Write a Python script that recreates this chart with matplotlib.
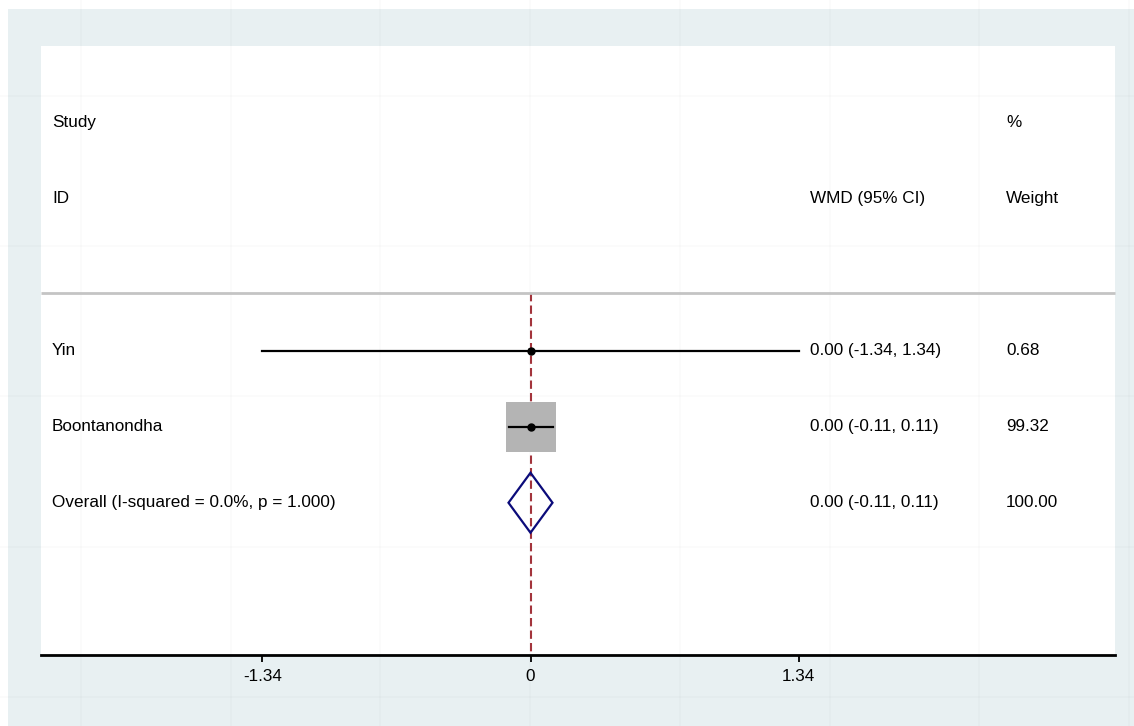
import numpy as np
import matplotlib
matplotlib.use("Agg")
import matplotlib.pyplot as plt
from matplotlib.patches import Rectangle, Polygon

plt.rcParams["font.family"] = ["Liberation Sans", "DejaVu Sans"]

# Study-level results (weighted mean difference, 95% CI, % weight)
studies = ["Yin", "Boontanondha"]
wmd = [0.00, 0.00]
ci_low = [-1.34, -0.11]
ci_high = [1.34, 0.11]
weights = [0.68, 99.32]

# Pooled estimate
overall_label = "Overall (I-squared = 0.0%, p = 1.000)"
overall_wmd = 0.00
overall_low = -0.11
overall_high = 0.11
overall_weight = 100.00

xticks = [-1.34, 0, 1.34]
xtick_labels = ["-1.34", "0", "1.34"]

W, H = 1134, 726
fig = plt.figure(figsize=(W / 100, H / 100), dpi=100, facecolor="white")

# Background layer in pixel coordinates
bg = fig.add_axes([0, 0, 1, 1], zorder=0)
bg.set_xlim(0, W)
bg.set_ylim(H, 0)
bg.axis("off")
bg.add_patch(Rectangle((8, 9), W - 8, H - 9, facecolor="#e8f0f2", edgecolor="none"))
bg.add_patch(Rectangle((41, 46), 1115 - 41, 655 - 46, facecolor="white", edgecolor="none"))
for gx in np.arange(81, W, 149.7):
    bg.axvline(gx, color="black", alpha=0.018, lw=1.2)
for gy in np.arange(96, H, 150.2):
    bg.axhline(gy, color="black", alpha=0.018, lw=1.2)

# Plot region
left, right, top, bottom = 41, 1115, 46, 655
ax = fig.add_axes([left / W, 1 - bottom / H, (right - left) / W, (bottom - top) / H], zorder=1)
ax.patch.set_alpha(0)
x0, px_per_unit = 530.5, 200.0
ax.set_xlim((left - x0) / px_per_unit, (right - x0) / px_per_unit)
ax.set_ylim(5, -3)
row_px = (bottom - top) / 8.0

fs = 12.3

for s in ["top", "left", "right"]:
    ax.spines[s].set_visible(False)
ax.spines["bottom"].set_linewidth(2)
ax.spines["bottom"].set_color("black")
ax.set_yticks([])
ax.set_xticks(xticks)
ax.set_xticklabels(xtick_labels)
ax.tick_params(axis="x", length=5, width=1.3, pad=5, labelsize=fs, color="black")

xlab = (52 - x0) / px_per_unit
xci = (810 - x0) / px_per_unit
xwt = (1006 - x0) / px_per_unit
dy = 0.0

# Header rows
ax.text(xlab, -2 + dy, "Study", fontsize=fs, va="center", ha="left")
ax.text(xlab, -1 + dy, "ID", fontsize=fs, va="center", ha="left")
ax.text(xci, -1 + dy, "WMD (95% CI)", fontsize=fs, va="center", ha="left")
ax.text(xwt, -2 + dy, "%", fontsize=fs, va="center", ha="left")
ax.text(xwt, -1 + dy, "Weight", fontsize=fs, va="center", ha="left")

# Separator under the header
sep_y = 0.24
ax.plot(ax.get_xlim(), [sep_y, sep_y], color="#c4c4c4", lw=2, solid_capstyle="butt", clip_on=False)

# Null line
ax.plot([0, 0], [sep_y, 5], color="#a3343c", lw=1.5, dashes=(4, 2), zorder=1)

max_w = max(weights)
box_side_px = 50.0
for i, (name, est, lo, hi, w) in enumerate(zip(studies, wmd, ci_low, ci_high, weights)):
    y = i + 1
    side = box_side_px * np.sqrt(w / max_w)
    ax.add_patch(Rectangle((est - side / 2 / px_per_unit, y - side / 2 / row_px),
                           side / px_per_unit, side / row_px,
                           facecolor="#b4b4b4", edgecolor="none", zorder=2))
    ax.plot([lo, hi], [y, y], color="black", lw=1.6, zorder=3)
    ax.plot([est], [y], "o", color="black", ms=5, zorder=4)
    ax.text(xlab, y + dy, name, fontsize=fs, va="center", ha="left")
    ax.text(xci, y + dy, f"{est:.2f} ({lo:.2f}, {hi:.2f})", fontsize=fs, va="center", ha="left")
    ax.text(xwt, y + dy, f"{w:.2f}", fontsize=fs, va="center", ha="left")

# Pooled diamond
yo = len(studies) + 1
half_h = 30 / row_px
ax.add_patch(Polygon([[overall_low, yo], [overall_wmd, yo - half_h], [overall_high, yo],
                      [overall_wmd, yo + half_h]], closed=True,
                     facecolor="none", edgecolor="#0b0b7a", lw=1.6, zorder=3))
ax.text(xlab, yo + dy, overall_label, fontsize=fs, va="center", ha="left")
ax.text(xci, yo + dy, f"{overall_wmd:.2f} ({overall_low:.2f}, {overall_high:.2f})", fontsize=fs,
        va="center", ha="left")
ax.text(xwt, yo + dy, f"{overall_weight:.2f}", fontsize=fs, va="center", ha="left")

fig.savefig("out.png", dpi=100, facecolor="white")
